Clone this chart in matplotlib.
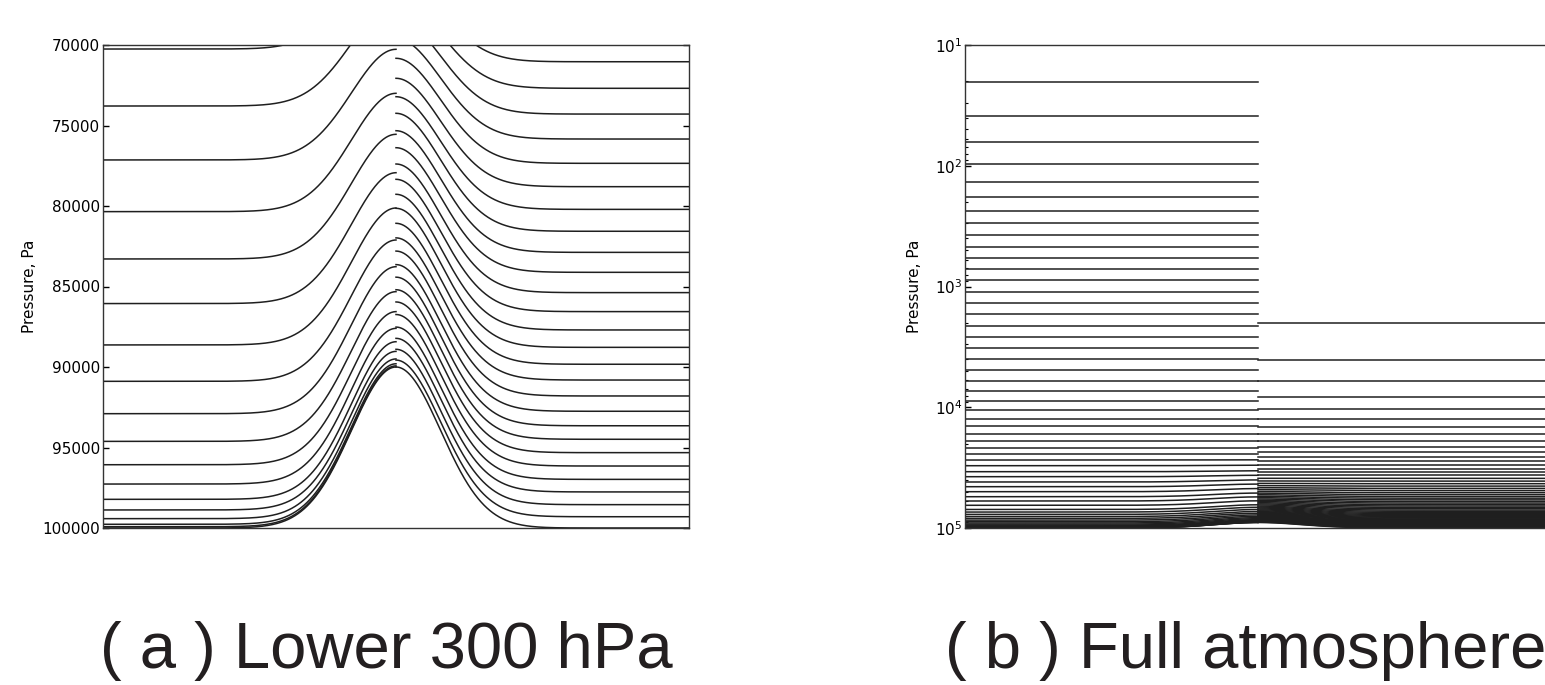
import numpy as np
import matplotlib
matplotlib.use("Agg")
import matplotlib.pyplot as plt

# hybrid levels of the two grids: far-field pressure (flat ground) and
# pressure of the same level above the summit of the hill, Pa
left_p_far = [20.1, 38.7, 64, 96, 135.5, 181, 235, 300, 377, 468,
              580, 721, 889, 1105, 1370, 1700, 2112, 2604, 3230, 4005,
              4940, 6100, 7380, 8880, 10600, 12440, 14380, 16670, 19150, 21640,
              24390, 27360, 30490, 34180, 37600, 41590, 45500, 50050, 55070, 59770,
              64860, 70250, 73790, 77140, 80350, 83290, 86060, 88630, 90890, 92900,
              94620, 96070, 97270, 98220, 98880, 99420, 99770, 99920, 100000]
left_p_peak = [20.1, 38.7, 64, 96, 135.5, 181, 235, 300, 377, 468,
               580, 721, 889, 1105, 1370, 1700, 2112, 2604, 3230, 4005,
               4940, 6100, 7380, 8880, 10600, 12440, 14380, 16670, 19150, 21640,
               24390, 27260, 30190, 33580, 36600, 39990, 43300, 47150, 51370, 55270,
               59560, 64250, 67390, 70267, 73000, 75547, 77932, 80124, 82112, 83770,
               85320, 86560, 87600, 88430, 89030, 89500, 89800, 89930, 90000]

right_p_far = [2018, 4083, 6100, 8280, 10400, 12500, 14650, 16740, 19040, 21240,
               23490, 25700, 28060, 30290, 32470, 34600, 36720, 38820, 40900, 42950,
               44980, 46980, 48950, 50900, 52830, 54740, 56620, 58480, 60320, 62140,
               63940, 65720, 67480, 69240, 71040, 72690, 74290, 75840, 77350, 78800,
               80210, 81570, 82880, 84120, 85380, 86560, 87700, 88780, 89830, 90810,
               91800, 92750, 93650, 94490, 95320, 96150, 96980, 97760, 98550, 99300,
               100000]
right_p_peak = [2018, 4083, 6100, 8280, 10400, 12500, 14650, 16740, 19040, 21240,
                23490, 25700, 28060, 30290, 32470, 34600, 36720, 38770, 40780, 42700,
                44580, 46380, 48100, 49800, 51430, 53040, 54620, 56080, 57520, 58940,
                60340, 61720, 63080, 64440, 65840, 67090, 68340, 69590, 70826, 72068,
                73211, 74242, 75323, 76379, 77391, 78342, 79273, 80143, 81075, 81980,
                82800, 83640, 84420, 85200, 85960, 86740, 87520, 88220, 88900, 89570,
                90000]

panel_titles = ["( a ) Lower 300 hPa", "( b ) Full atmosphere"]

# gaussian hill, x runs from -1 to 1 with the summit in the middle
hill_width = 0.215
x_left = np.linspace(-1, 0, 600)
x_right = np.linspace(0, 1, 600)


def hill(x):
    return np.exp(-(x / hill_width) ** 2)


def draw_levels(ax, x, p_far, p_peak):
    g = hill(x)
    for far, peak in zip(p_far, p_peak):
        ax.plot(x, far - (far - peak) * g, color="0.12", lw=1.1)


def style_axes(ax):
    ax.set_xlim(-1, 1)
    ax.set_xticks([])
    ax.yaxis.set_ticks_position("both")
    ax.tick_params(axis="y", which="major", direction="in", length=4, width=1,
                   labelsize=11, pad=2)
    ax.tick_params(axis="y", which="minor", direction="in", length=2, width=0.8)
    for s in ax.spines.values():
        s.set_color("0.2")
        s.set_linewidth(1.0)
    ax.set_ylabel("Pressure, Pa", fontsize=11)


fig = plt.figure(figsize=(15.45, 6.85), dpi=100)

ax1 = fig.add_axes([103 / 1545, 157 / 685, 586 / 1545, 483 / 685])
draw_levels(ax1, x_left, left_p_far, left_p_peak)
draw_levels(ax1, x_right, right_p_far, right_p_peak)
ax1.set_ylim(100000, 70000)
ax1.set_yticks([70000, 75000, 80000, 85000, 90000, 95000, 100000])
style_axes(ax1)
ax1.yaxis.set_label_coords(-0.112, 0.5)

ax2 = fig.add_axes([965 / 1545, 157 / 685, 586 / 1545, 483 / 685])
draw_levels(ax2, x_left, left_p_far, left_p_peak)
draw_levels(ax2, x_right, right_p_far, right_p_peak)
ax2.set_yscale("log")
ax2.set_ylim(1e5, 10)
style_axes(ax2)
ax2.yaxis.set_label_coords(-0.073, 0.5)

fig.text(100 / 1545, 0.025, panel_titles[0], fontsize=47,
         family="Liberation Sans", color="#231f20")
fig.text(945 / 1545, 0.025, panel_titles[1], fontsize=47,
         family="Liberation Sans", color="#231f20")

fig.savefig("out.png", dpi=100)
plt.close(fig)
